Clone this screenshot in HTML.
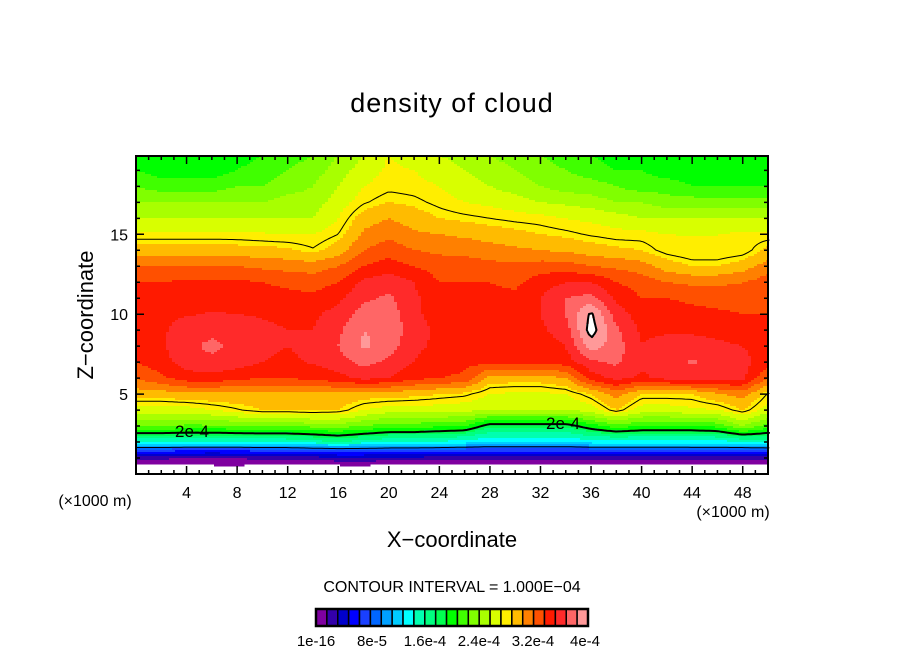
<!DOCTYPE html>
<html><head><meta charset="utf-8"><style>
body{margin:0;background:#fff;width:904px;height:654px;overflow:hidden}
svg{display:block}
text{font-family:"Liberation Sans","DejaVu Sans",sans-serif;fill:#000}
</style></head><body>
<svg id="chart" width="904" height="654" viewBox="0 0 904 654">
<text x="452" y="112" font-size="27" text-anchor="middle" letter-spacing="1">density of cloud</text>
<g id="field"></g>
<g id="lines"></g>
<g id="axes"></g>
<text x="95" y="506" font-size="16" text-anchor="middle">(×1000 m)</text>
<text x="733" y="517" font-size="16" text-anchor="middle">(×1000 m)</text>
<text x="452" y="547" font-size="22" text-anchor="middle">X−coordinate</text>
<text x="0" y="0" font-size="22" text-anchor="middle" transform="translate(93,315) rotate(-90)">Z−coordinate</text>
<text x="452" y="592" font-size="16" text-anchor="middle">CONTOUR INTERVAL = 1.000E−04</text>
<g id="cbar"></g>
</svg>
<script>
const xCoords=[0,2,4,6,8,10,12,14,16,18,20,22,24,26,28,30,32,34,36,38,40,42,44,46,48,50];
const zCoords=[0,0.7,1,1.5,2,3,4,5,6,7,8,9,10,11,12,13,14,15,16,17,18,19,20];
// values in colour-level units (row per z, from z=0 upward)
const z0=[-2.5,-2.5,-2.5,-2.5,-2.5,-2.5,-2.5,-2.5,-2.5,-2.5,-2.5,-2.5,-2.5,-2.5,-2.5,-2.5,-2.5,-2.5,-2.5,-2.5,-2.5,-2.5,-2.5,-2.5,-2.5,-2.5];
const z07=[0.4,0.5,0.2,0.6,0.7,0.3,0.5,0.3,0.6,0.7,0.4,0.3,0.5,0.3,0.4,0.3,0.5,0.3,0.4,0.3,0.5,0.3,0.6,0.3,0.4,0.3];
const z1=[1.3,1.2,1,0.9,1,1.3,1.3,1.5,1.8,1.8,1.6,1.6,1.6,1.6,1.5,1.5,1.6,1.6,1.6,1.6,1.4,1.4,1.6,1.6,1.4,1.4];
const zh15=[4.5,4.5,4.3,4.2,4.3,4.5,4.5,4.8,5,5,4.8,4.8,4.6,4.5,4.4,4.4,4.4,4.4,4.5,4.5,4.5,4.5,4.6,4.6,4.5,4.6];
const z2=[9,9,9,9,9,9,9,9.5,10,9.5,9,9,8.8,8.5,8,8,8,8,8.5,8.5,8.5,8.5,8.5,8.5,9,9.5];
const z3=[14,14,13.8,13.8,14,14.2,14.2,14.3,14.5,14,13.5,13.5,13.2,13,11.2,11.2,11.2,11.2,12.5,13.5,13,13,13,13.3,15,13.5];
const z4=[16.5,16.5,16.5,17,17.5,18,18,18.2,18,17,16.5,16.5,16.5,16.3,16,16,16,16,16.5,18,16.5,16.5,16.8,17,18,16.5];
const z5=[18.5,18.5,18.8,18.8,18.8,18.8,18.8,18.8,18.8,18.5,18.5,18.3,18,17.8,17,16.8,16.8,17,18,19.5,18,18,18,18.8,19.5,17.5];
const z6=[20,20.8,21.5,21.6,21.3,21,21,21.3,21.6,22.3,22,21.3,21,20.8,18.5,18.5,18.5,19,21.5,22.3,21.8,22.3,22.5,22.5,22.3,20];
const z7=[21,21.6,22.5,22.8,22.5,22,21.8,22.1,22.6,23.3,22.8,22,21.5,21.3,21.3,21.2,21.2,21.5,22.8,23.2,22.2,22.8,23.1,22.8,22.3,21.5];
const z8=[21.3,21.8,22.8,23.2,22.8,22.2,22,22.3,23,24.2,23.5,22.2,21.8,21.5,21.6,21.5,21.5,22,24.5,23.5,22,22.5,22.5,22.3,22,21.5];
const z9=[21.5,21.8,22.6,22.8,22.6,22.2,22,22,22.8,24,23.8,22.4,21.8,21.5,21.5,21.4,21.8,22.5,25.5,23.2,21.8,21.8,21.8,21.6,21.3,21.3];
const z10=[21.5,21.7,21.9,22.1,22,21.9,21.8,21.8,22.4,23.4,23.6,22.2,21.6,21.5,21.5,21.4,22,23,25.2,22.5,21.5,21.5,21.3,21.2,21,21];
const z11=[21.2,21.4,21.5,21.5,21.5,21.4,21.3,21.2,21.8,22.8,23.2,22.2,21.4,21.3,21.3,21.2,22,23,23.4,21.8,21,21,20.8,20.6,20.5,20.5];
const z12=[21,21,21.2,21.2,21.2,21,20.8,20.6,21,22.3,22.6,22,21,21,21,20.8,21.5,22,22,21,20.5,20,19.8,19.8,20,20.5];
const z13=[20,20,20,20,20,19.8,19.6,19.5,20,21,21.5,21,20.5,20.5,20.3,20.2,20.5,20.5,20,19.8,19.5,18.5,18,18,18.5,19.5];
const z14=[18.5,18.5,18.5,18.5,18.4,18.3,18.2,17.7,18.5,20,20.5,20,19.8,19.7,19.5,19.2,19,18.8,18.5,18.2,18,17.3,17,17,17.2,18.3];
const z15=[17.2,17.2,17.2,17.2,17.2,17.1,17,17,17.6,19.2,19.8,19.2,19,18.8,18.5,18.3,18,17.8,17.5,17.3,17.3,17,17,17,17.2,17.2];
const z16=[16,16,16,16,16,16,16,16,17,18.5,19,18.5,18,17.8,17.6,17.4,17.3,17,16.8,16.5,16,16,16,16,16,16];
const z17=[15,15,15,15,15,15,15.5,15.5,16.5,17.5,18,17.8,17.4,17,16.8,16.5,16,15.8,15.5,15,15,14.5,14.5,14.5,14.5,14.5];
const z18=[14,13.5,13.5,13.5,14,14,14.5,15,16,17,17.4,17.3,17,16.5,16,15.5,15,14.5,14.5,14,13.5,13.5,13,13,13,13];
const z19=[13,12.5,12.5,12.5,13,13.5,14,14.5,15.5,16.5,17.2,17,16.5,16,15.5,15,14.5,14,13.5,13,13,12.5,12.5,12.5,12.5,12.5];
const z20=[12.5,12.5,12,12,12.5,13,13.5,14,15,16,17,16.5,16,15.5,15,14.5,14,13.5,13,12.5,12.5,12.5,12,12,12,12.5];
const grid=[z0,z07,z1,zh15,z2,z3,z4,z5,z6,z7,z8,z9,z10,z11,z12,z13,z14,z15,z16,z17,z18,z19,z20];
const levelColors=["#7f00a0","#3300aa","#0000cc","#0000ff","#1a40ff","#0066ff","#00a0ff","#00ccff","#00ffff","#00ffb0","#00ff80","#00ff50","#00ff00","#40ff00","#80ff00","#a8ff00","#d8ff00","#ffee00","#ffbb00","#ff8000","#ff5000","#ff1a00","#ff2a2a","#ff6666","#ff9999"];
const contourLevels=[5.9,11.8,17.6,25];
const contourWidths=[1,2,1,2];
const cbarLabels=["1e-16","8e-5","1.6e-4","2.4e-4","3.2e-4","4e-4"];
const cbarLabelX=[316,372,425,479,533,585];
const xTicks=[4,8,12,16,20,24,28,32,36,40,44,48];
const yTicks=[5,10,15];

const NS="http://www.w3.org/2000/svg";
const X0=136,X1=768,Y0=156,Y1=474,XMAX=50,ZMAX=19.9;
const sx=v=>X0+(X1-X0)*v/XMAX, sz=v=>Y1-(Y1-Y0)*v/ZMAX;
function val(x,z){
  let i=0;while(i<xCoords.length-2&&x>xCoords[i+1])i++;
  let j=0;while(j<zCoords.length-2&&z>zCoords[j+1])j++;
  const tx=Math.min(1,Math.max(0,(x-xCoords[i])/(xCoords[i+1]-xCoords[i])));
  const tz=Math.min(1,Math.max(0,(z-zCoords[j])/(zCoords[j+1]-zCoords[j])));
  const a=grid[j][i],b=grid[j][i+1],c=grid[j+1][i],d=grid[j+1][i+1];
  return (a*(1-tx)+b*tx)*(1-tz)+(c*(1-tx)+d*tx)*tz;
}
function colorOf(v){if(v<0)return null;if(v>=25)return "#ffffff";return levelColors[Math.min(24,Math.floor(v))];}
const field=document.getElementById('field');
const DX=3,DY=2;
const nx=Math.ceil((X1-X0)/DX),ny=Math.ceil((Y1-Y0)/DY);
const vals=[];
for(let r=0;r<=ny;r++){const row=[];for(let c=0;c<=nx;c++){const px=Math.min(X1,X0+c*DX),py=Math.min(Y1,Y0+r*DY);row.push(val((px-X0)/(X1-X0)*XMAX,(Y1-py)/(Y1-Y0)*ZMAX));}vals.push(row);}
for(let r=0;r<ny;r++){
  let c=0;
  while(c<nx){
    const v=(vals[r][c]+vals[r][c+1]+vals[r+1][c]+vals[r+1][c+1])/4;
    const col=colorOf(v);let c2=c+1;
    while(c2<nx){const v2=(vals[r][c2]+vals[r][c2+1]+vals[r+1][c2]+vals[r+1][c2+1])/4;if(colorOf(v2)!==col)break;c2++;}
    if(col){const rc=document.createElementNS(NS,'rect');
      
      
      rc.setAttribute('x',X0+c*DX);rc.setAttribute('y',Y0+r*DY);
      rc.setAttribute('width',Math.min(X1,X0+c2*DX)-(X0+c*DX)+0.5);rc.setAttribute('height',DY+0.5);
      rc.setAttribute('fill',col);field.appendChild(rc);}
    c=c2;
  }
}
const lines=document.getElementById('lines');
contourLevels.forEach((L,k)=>{
  let d="";
  for(let r=0;r<ny;r++)for(let c=0;c<nx;c++){
    const p=[[c,r],[c+1,r],[c+1,r+1],[c,r+1]];
    const v=[vals[r][c],vals[r][c+1],vals[r+1][c+1],vals[r+1][c]];
    const pts=[];
    for(let e=0;e<4;e++){const a=v[e],b=v[(e+1)%4];
      if((a<L)!==(b<L)){const t=(L-a)/(b-a);const pa=p[e],pb=p[(e+1)%4];
        pts.push([X0+(pa[0]+(pb[0]-pa[0])*t)*DX,Y0+(pa[1]+(pb[1]-pa[1])*t)*DY]);}}
    for(let q=0;q+1<pts.length;q+=2)d+="M"+pts[q][0].toFixed(1)+" "+pts[q][1].toFixed(1)+"L"+pts[q+1][0].toFixed(1)+" "+pts[q+1][1].toFixed(1);
  }
  const pa=document.createElementNS(NS,'path');
  
  
  pa.setAttribute('d',d);pa.setAttribute('stroke','#000');pa.setAttribute('fill','none');
  pa.setAttribute('stroke-width',contourWidths[k]);pa.setAttribute('stroke-linecap','round');
  lines.appendChild(pa);
});
[[192,437],[563,429]].forEach(p=>{
  const t=document.createElementNS(NS,'text');
  
  
  t.setAttribute('x',p[0]);t.setAttribute('y',p[1]);t.setAttribute('font-size','17');t.setAttribute('text-anchor','middle');
  t.textContent='2e-4';lines.appendChild(t);
});
const axes=document.getElementById('axes');
let ad="";
for(let i=1;i<XMAX;i++){const x=sx(i),L=(i%4===0)?8:4;ad+=`M${x} ${Y1}v${-L}M${x} ${Y0}v${L}`;}
for(let i=1;i<20;i++){const y=sz(i),L=(i%5===0)?8:4;ad+=`M${X0} ${y}h${L}M${X1} ${y}h${-L}`;}
const tp=document.createElementNS(NS,'path');


tp.setAttribute('d',ad);tp.setAttribute('stroke','#000');tp.setAttribute('stroke-width','1.5');axes.appendChild(tp);
const fr=document.createElementNS(NS,'rect');


fr.setAttribute('x',X0);fr.setAttribute('y',Y0);fr.setAttribute('width',X1-X0);fr.setAttribute('height',Y1-Y0);
fr.setAttribute('fill','none');fr.setAttribute('stroke','#000');fr.setAttribute('stroke-width','2');axes.appendChild(fr);
xTicks.forEach(v=>{const t=document.createElementNS(NS,'text');
  
  
  t.setAttribute('x',sx(v));t.setAttribute('y',498);t.setAttribute('font-size','16');t.setAttribute('text-anchor','middle');t.textContent=v;axes.appendChild(t);});
yTicks.forEach(v=>{const t=document.createElementNS(NS,'text');
  
  
  t.setAttribute('x',128);t.setAttribute('y',sz(v)+6);t.setAttribute('font-size','16');t.setAttribute('text-anchor','end');t.textContent=v;axes.appendChild(t);});
const cb=document.getElementById('cbar');
const CBX=316,CBW=272,CBY=609,CBH=17,cw=CBW/levelColors.length;
levelColors.forEach((c,i)=>{const r=document.createElementNS(NS,'rect');
  
  
  r.setAttribute('x',CBX+i*cw);r.setAttribute('y',CBY);r.setAttribute('width',cw);r.setAttribute('height',CBH);r.setAttribute('fill',c);r.setAttribute('stroke','#000');r.setAttribute('stroke-width','1.5');cb.appendChild(r);});
const cf=document.createElementNS(NS,'rect');


cf.setAttribute('x',CBX);cf.setAttribute('y',CBY);cf.setAttribute('width',CBW);cf.setAttribute('height',CBH);cf.setAttribute('fill','none');cf.setAttribute('stroke','#000');cf.setAttribute('stroke-width','2.5');cb.appendChild(cf);
cbarLabels.forEach((s,i)=>{const t=document.createElementNS(NS,'text');
  
  
  t.setAttribute('x',cbarLabelX[i]);t.setAttribute('y',646);t.setAttribute('font-size','15');t.setAttribute('text-anchor','middle');t.textContent=s;cb.appendChild(t);});
</script>
</body></html>
